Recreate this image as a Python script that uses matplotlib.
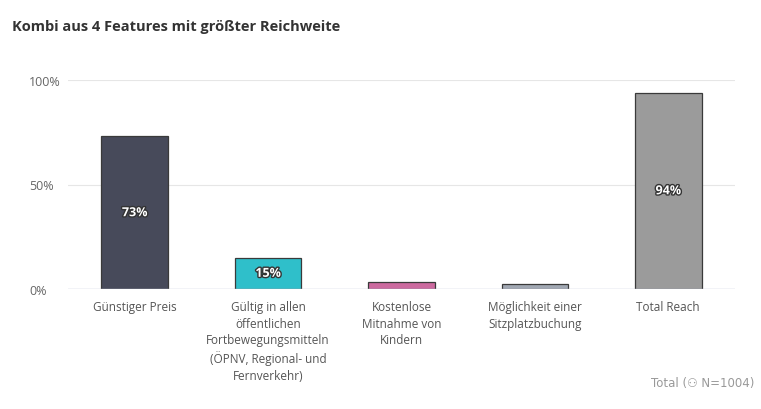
import matplotlib
matplotlib.use("Agg")
import matplotlib.pyplot as plt
import matplotlib.patheffects as pe

categories = ["Günstiger Preis",
              "Gültig in allen\nöffentlichen\nFortbewegungsmitteln\n(ÖPNV, Regional- und\nFernverkehr)",
              "Kostenlose\nMitnahme von\nKindern",
              "Möglichkeit einer\nSitzplatzbuchung",
              "Total Reach"]
values = [73, 15, 3.2, 2.6, 94]
labels = ["73%", "15%", "", "", "94%"]
colors = ["#474a5a", "#2fbfca", "#cc6a9f", "#a1a8b3", "#9b9b9b"]
yticks = [0, 50, 100]
ytick_labels = ["0%", "50%", "100%"]

fig = plt.figure(figsize=(7.61, 4.10), dpi=100)
ax = fig.add_axes([68/761, 1-290/410, 667/761, 209/410])
x = range(len(values))
bars = ax.bar(x, values, width=0.5, color=colors, edgecolor="#3a3a3a", linewidth=0.9, zorder=3)
for b, l in zip(bars, labels):
    if l:
        ax.text(b.get_x()+b.get_width()/2, b.get_height()/2, l, ha="center", va="center",
                color="white", fontsize=9, fontweight="bold", family="Open Sans",
                path_effects=[pe.withStroke(linewidth=2, foreground="#333333")], zorder=4)
ax.set_xlim(-0.5, 4.5)
ax.set_ylim(0, 100)
ax.set_yticks(yticks)
ax.set_yticklabels(ytick_labels, color="#666666", fontsize=9, family="Open Sans")
ax.set_xticks(list(x))
ax.set_xticklabels(categories, color="#555555", fontsize=8.5, family="Open Sans", linespacing=1.35, va="top")
ax.tick_params(length=0, pad=8)
ax.tick_params(axis="y", pad=28)
for lab in ax.get_yticklabels():
    lab.set_ha("left")
ax.grid(axis="y", color="#e6e6e6", linewidth=0.8, zorder=0)
for s in ax.spines.values():
    s.set_visible(False)
ax.axhline(0, color="#c8cde0", linewidth=1, zorder=5)
fig.text(12/761, 1-27/410, "Kombi aus 4 Features mit größter Reichweite", fontsize=10.5,
         fontweight="bold", color="#333333", family="Open Sans", va="center")
fig.text(754/761, 1-384/410, "Total (\u2687 N=1004)", fontsize=8.5, color="#999999",
         family="DejaVu Sans", ha="right", va="center")
fig.savefig("out.png", dpi=100)
